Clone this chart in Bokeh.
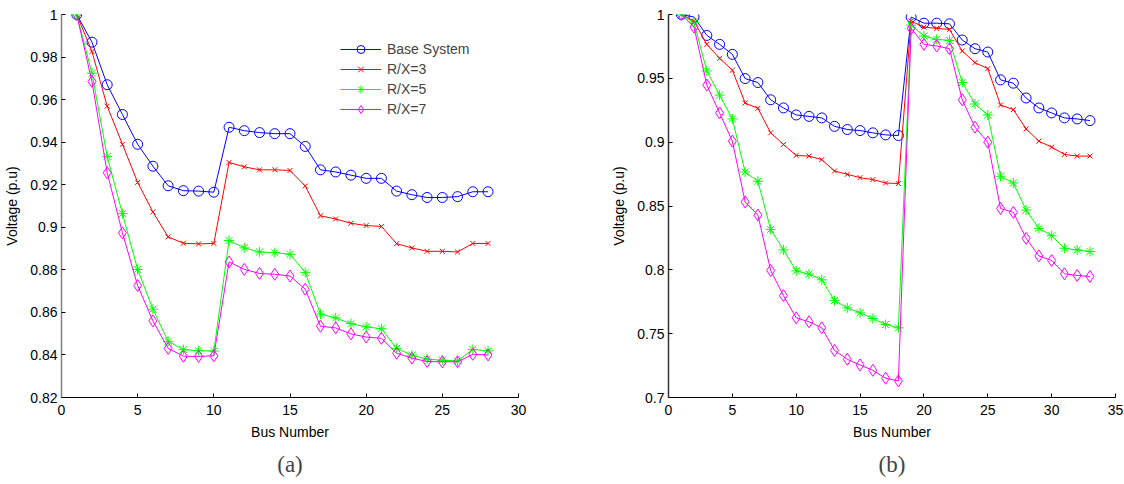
from bokeh.plotting import figure
from bokeh.layouts import row
from bokeh.models import Range1d, FixedTicker, Legend, LegendItem, Title
from bokeh.embed import file_html
from bokeh.resources import INLINE

# ---------------- data ----------------
series_names = ["Base System", "R/X=3", "R/X=5", "R/X=7"]

bus_a = list(range(1, 29))
base_a = [1.0, 0.987, 0.967, 0.953, 0.939, 0.9287, 0.9195, 0.9172, 0.917, 0.9165,
          0.947, 0.9454, 0.9445, 0.944, 0.944, 0.938, 0.927, 0.926, 0.9245, 0.923,
          0.923, 0.917, 0.9153, 0.914, 0.914, 0.9144, 0.9167, 0.9167]
rx3_a = [1.0, 0.9826, 0.9569, 0.939, 0.9211, 0.9072, 0.8955, 0.8925, 0.8922, 0.8924,
         0.9305, 0.9284, 0.927, 0.927, 0.9267, 0.9194, 0.9054, 0.9039, 0.9019, 0.9008,
         0.9004, 0.8923, 0.8903, 0.8887, 0.8887, 0.8884, 0.8924, 0.8924]
rx5_a = [1.0, 0.9724, 0.9333, 0.9064, 0.8802, 0.8615, 0.8464, 0.8425, 0.842, 0.8418,
         0.8938, 0.8903, 0.8884, 0.8881, 0.8873, 0.8788, 0.8592, 0.8574, 0.8547, 0.8532,
         0.8523, 0.8431, 0.8399, 0.838, 0.8375, 0.8372, 0.8426, 0.8419]
rx7_a = [1.0, 0.9685, 0.9256, 0.8974, 0.8726, 0.856, 0.8431, 0.8394, 0.8393, 0.8396,
         0.8837, 0.8802, 0.8783, 0.8779, 0.8771, 0.8709, 0.8535, 0.8527, 0.8499, 0.8484,
         0.8478, 0.8408, 0.8385, 0.8369, 0.8368, 0.8368, 0.8403, 0.84]

bus_b = list(range(1, 34))
base_b = [1.0, 0.998, 0.9836, 0.9766, 0.9688, 0.9498, 0.9467, 0.9332, 0.9268, 0.9213,
          0.9202, 0.919, 0.9124, 0.9099, 0.9091, 0.9073, 0.9057, 0.9052, 0.998, 0.9932,
          0.9932, 0.9927, 0.98, 0.9732, 0.9706, 0.9488, 0.9462, 0.9346, 0.9268, 0.9229,
          0.919, 0.9182, 0.9169]
rx3_b = [1.0, 0.9948, 0.9766, 0.9657, 0.9564, 0.9307, 0.9265, 0.9073, 0.8982, 0.8896,
         0.8891, 0.8863, 0.8774, 0.8748, 0.8722, 0.8707, 0.868, 0.8676, 0.9948, 0.9901,
         0.9891, 0.9883, 0.9714, 0.9623, 0.9576, 0.9291, 0.9255, 0.9104, 0.9008, 0.8961,
         0.8904, 0.8891, 0.8891]
rx5_b = [1.0, 0.9935, 0.9558, 0.9369, 0.9182, 0.8766, 0.8694, 0.8317, 0.8156, 0.7992,
         0.7967, 0.7922, 0.7759, 0.7702, 0.7663, 0.7619, 0.7572, 0.7546, 0.9917, 0.9831,
         0.9805, 0.9797, 0.9467, 0.9299, 0.9213, 0.8733, 0.868, 0.8468, 0.8325, 0.8267,
         0.8169, 0.8156, 0.8143]
rx7_b = [1.0, 0.9901, 0.9447, 0.9229, 0.9008, 0.8532, 0.8429, 0.7995, 0.7798, 0.7624,
         0.7593, 0.7546, 0.7369, 0.7299, 0.7255, 0.7213, 0.7151, 0.713, 0.9891, 0.9766,
         0.9753, 0.9732, 0.9332, 0.9117, 0.9, 0.8481, 0.845, 0.8247, 0.8109, 0.8073,
         0.7969, 0.7956, 0.7948]

xticks_a = [0, 5, 10, 15, 20, 25, 30]
yticks_a = [0.82, 0.84, 0.86, 0.88, 0.9, 0.92, 0.94, 0.96, 0.98, 1.0]
ylabels_a = ["0.82", "0.84", "0.86", "0.88", "0.9", "0.92", "0.94", "0.96", "0.98", "1"]
xticks_b = [0, 5, 10, 15, 20, 25, 30, 35]
yticks_b = [0.7, 0.75, 0.8, 0.85, 0.9, 0.95, 1.0]
ylabels_b = ["0.7", "0.75", "0.8", "0.85", "0.9", "0.95", "1"]

x_label = "Bus Number"
y_label = "Voltage (p.u)"
captions = ["(a)", "(b)"]

# ---------------- style ----------------
colors = ["#0000ff", "#ff0000", "#00ff00", "#ff00ff"]
markers = ["circle", "x", "asterisk", "diamond"]
msizes = [10, 7, 10, 12]
FONT = "Liberation Sans"


def make_panel(buses, ys, xr, yr, xticks, yticks, ylabels, caption,
               width, border_left, border_right, border_bottom, yaxis_color, legend=False):
    p = figure(width=width, height=484, output_backend="svg", toolbar_location=None,
               x_range=Range1d(*xr), y_range=Range1d(*yr),
               min_border_left=border_left, min_border_right=border_right,
               min_border_top=14, min_border_bottom=border_bottom)
    p.outline_line_color = None
    p.xgrid.grid_line_color = None
    p.ygrid.grid_line_color = None
    p.background_fill_color = "white"

    items = []
    for vals, c, m, s, name in zip(ys, colors, markers, msizes, series_names):
        l = p.line(buses, vals, line_color=c, line_width=1)
        sc = p.scatter(buses, vals, marker=m, size=s, line_color=c, fill_color=None,
                       line_width=1)
        items.append(LegendItem(label=name, renderers=[l, sc]))

    for ax in (p.xaxis[0], p.yaxis[0]):
        ax.major_tick_in = 4
        ax.major_tick_out = 0
        ax.minor_tick_line_color = None
        ax.major_label_text_font = FONT
        ax.major_label_text_font_size = "14px"
        ax.major_label_text_color = "black"
        ax.axis_label_text_font = FONT
        ax.axis_label_text_font_size = "14px"
        ax.axis_label_text_font_style = "normal"
        ax.axis_label_text_color = "black"
        ax.major_tick_line_color = "black"

    p.xaxis.ticker = FixedTicker(ticks=xticks)
    p.yaxis.ticker = FixedTicker(ticks=yticks)
    p.yaxis.major_label_overrides = {t: lab for t, lab in zip(yticks, ylabels)}
    p.xaxis.axis_label = x_label
    p.yaxis.axis_label = y_label
    p.xaxis.major_label_standoff = 7
    p.yaxis.major_label_standoff = 4
    p.xaxis.axis_label_standoff = 6
    p.yaxis.axis_label_standoff = 7
    p.xaxis.axis_line_color = "black"
    p.yaxis.axis_line_color = yaxis_color
    p.yaxis.axis_line_width = 1.5

    if legend:
        lg = Legend(items=items, location=(279, 278), border_line_color=None,
                    background_fill_color="white", background_fill_alpha=1.0,
                    glyph_width=41, glyph_height=20, label_height=20,
                    label_standoff=6, spacing=0, padding=5, margin=0,
                    label_text_font=FONT, label_text_font_size="14px")
        p.add_layout(lg)

    t = Title(text=caption, align="center", text_font="Liberation Serif",
              text_font_size="23px", text_font_style="normal", standoff=15)
    p.add_layout(t, "below")
    return p


p1 = make_panel(bus_a, [base_a, rx3_a, rx5_a, rx7_a], (0, 30), (0.82, 1.0),
                xticks_a, yticks_a, ylabels_a, captions[0],
                width=568, border_left=61, border_right=50, border_bottom=85,
                yaxis_color="#808080", legend=True)
p2 = make_panel(bus_b, [base_b, rx3_b, rx5_b, rx7_b], (0, 35), (0.7, 1.0),
                xticks_b, yticks_b, ylabels_b, captions[1],
                width=556, border_left=100, border_right=9, border_bottom=86,
                yaxis_color="#333333")

layout = row(p1, p2)
open("out.html", "w").write(file_html(layout, INLINE))
